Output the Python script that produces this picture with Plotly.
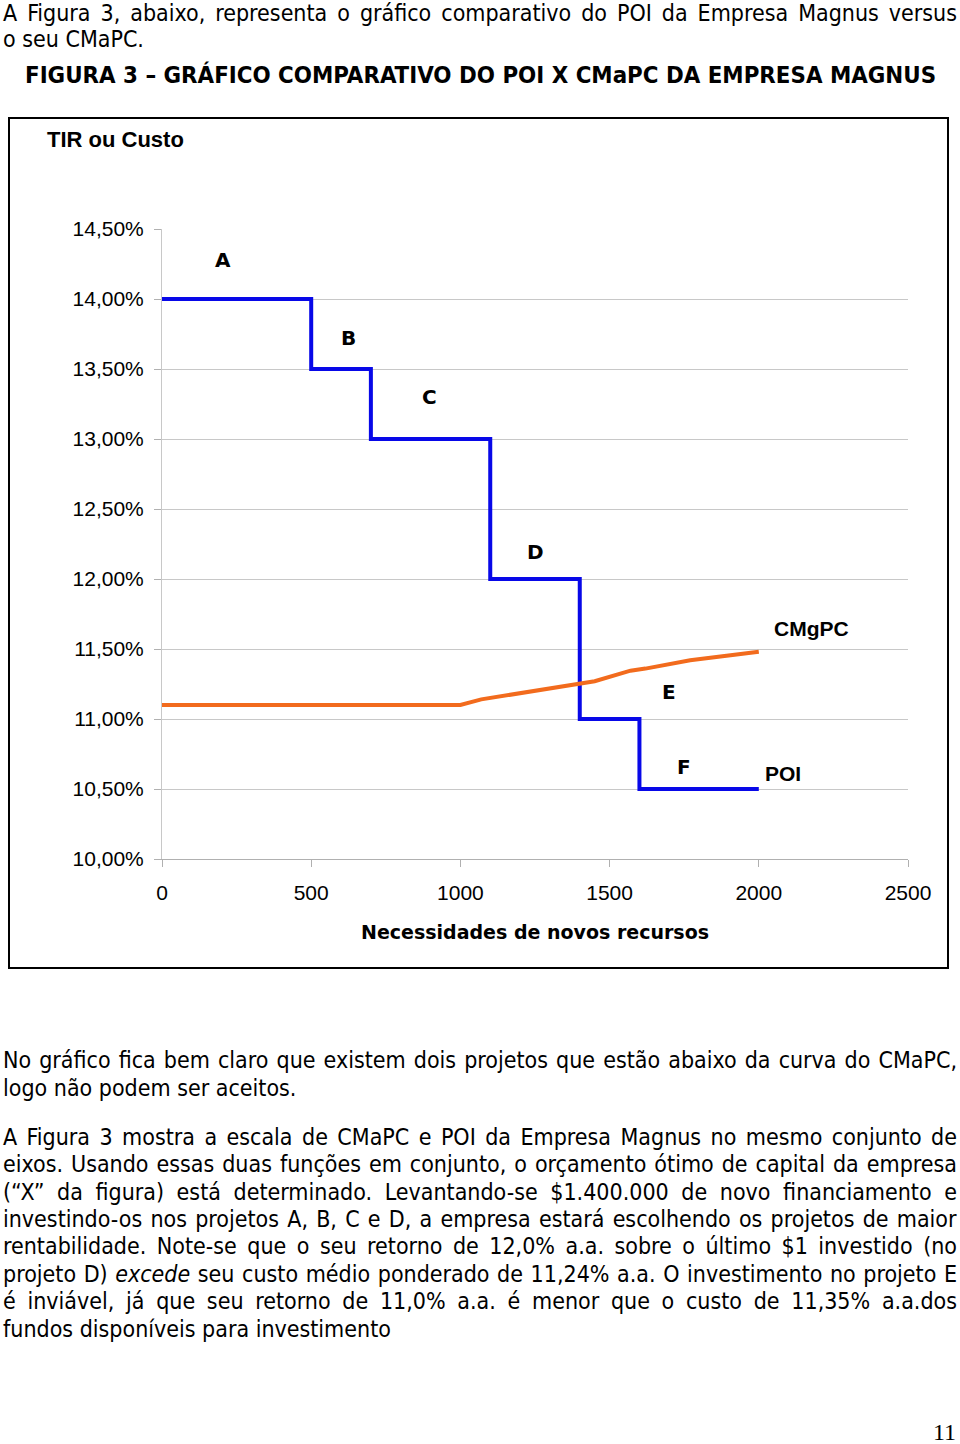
import json
import plotly.graph_objects as go

# ---------------- data ----------------
poi_x = [0, 500, 700, 1100, 1400, 1600, 2000]
poi_y = [14.0, 13.5, 13.0, 12.0, 11.0, 10.5, 10.5]

cmgpc_x = [0, 1000, 1070, 1400, 1450, 1570, 1620, 1770, 2000]
cmgpc_y = [11.10, 11.10, 11.14, 11.25, 11.27, 11.345, 11.36, 11.42, 11.48]

proj_labels = ["A", "B", "C", "D", "E", "F"]
proj_label_x = [205, 625, 895, 1250, 1700, 1750]
proj_label_y = [14.28, 13.72, 13.30, 12.19, 11.19, 10.66]

y_ticks = [10.0, 10.5, 11.0, 11.5, 12.0, 12.5, 13.0, 13.5, 14.0, 14.5]
y_ticktext = ["10,00%", "10,50%", "11,00%", "11,50%", "12,00%", "12,50%",
              "13,00%", "13,50%", "14,00%", "14,50%"]
x_ticks = [0, 500, 1000, 1500, 2000, 2500]

W, H = 960, 1444
L, R, T, B = 162, 908, 229, 859  # plot area in page pixels


def px(x):
    return (x - L) / (R - L)


def py(y):
    return 1 - (y - T) / (B - T)


fig = go.Figure()
fig.add_trace(go.Scatter(x=poi_x, y=poi_y, mode="lines", line_shape="hv",
                         line=dict(color="#0808e8", width=4), name="POI",
                         showlegend=False))
fig.add_trace(go.Scatter(x=cmgpc_x, y=cmgpc_y, mode="lines",
                         line=dict(color="#f26b1d", width=4), name="CMgPC",
                         showlegend=False))

ann = []
for t, xx, yy in zip(proj_labels, proj_label_x, proj_label_y):
    ann.append(dict(x=xx, y=yy, xref="x", yref="y", text="<b>" + t + "</b>", showarrow=False,
                    font=dict(family="DejaVu Sans", size=20, color="black"),
                    xanchor="center", yanchor="middle"))
ann.append(dict(x=2175, y=11.643, xref="x", yref="y", text="<b>CMgPC</b>", showarrow=False,
                font=dict(family="Liberation Sans, Arial", size=21, color="black")))
ann.append(dict(x=2080, y=10.61, xref="x", yref="y", text="<b>POI</b>", showarrow=False,
                font=dict(family="Liberation Sans, Arial", size=21, color="black")))

sans = "Liberation Sans Narrow, DejaVu Sans Condensed, Arial Narrow, sans-serif"
justify = []


def page_text(text, xpix, ypix, size=23, anchor="left", bold=False, family=sans, just=False):
    if bold:
        text = "<b>" + text + "</b>"
    if just:
        justify.append(len(ann))
    ann.append(dict(x=px(xpix), y=py(ypix), xref="paper", yref="paper", text=text,
                    showarrow=False, xanchor=anchor, yanchor="middle",
                    font=dict(family=family, size=size, color="black")))


page_text("A Figura 3, abaixo, representa o gráfico comparativo do POI da Empresa Magnus versus", 1, 13,
          just=True)
page_text("o seu CMaPC.", 1, 39)
page_text("FIGURA 3 – GRÁFICO COMPARATIVO DO POI X CMaPC DA EMPRESA MAGNUS", 480, 75,
          size=23.8, anchor="center", bold=True)
page_text("TIR ou Custo", 45, 139, size=22, bold=True, family="Liberation Sans, Arial")
page_text("Necessidades de novos recursos", 535, 932, size=19, anchor="center", bold=True,
          family="DejaVu Sans, Verdana")

body = [
    ("No gráfico fica bem claro que existem dois projetos que estão abaixo da curva do CMaPC,", 1060, True),
    ("logo não podem ser aceitos.", 1088, False),
    ("A Figura 3 mostra a escala de CMaPC e POI da Empresa Magnus no mesmo conjunto de", 1137, True),
    ("eixos. Usando essas duas funções em conjunto, o orçamento ótimo de capital da empresa", 1164, True),
    ("(“X” da figura) está determinado. Levantando-se $1.400.000 de novo financiamento e", 1192, True),
    ("investindo-os nos projetos A, B, C e D, a empresa estará escolhendo os projetos de maior", 1219, True),
    ("rentabilidade. Note-se que o seu retorno de 12,0% a.a. sobre o último $1 investido (no", 1246, True),
    ("projeto D) <i>excede</i> seu custo médio ponderado de 11,24% a.a. O investimento no projeto E", 1274, True),
    ("é inviável, já que seu retorno de 11,0% a.a. é menor que o custo de 11,35% a.a.dos", 1301, True),
    ("fundos disponíveis para investimento", 1329, False),
]
for t, yy, j in body:
    page_text(t, 1, yy, just=j)

page_text("11", 945, 1432, size=24, anchor="center", family="Liberation Serif, Times New Roman")

shapes = [dict(type="rect", xref="paper", yref="paper",
               x0=px(9), x1=px(948), y0=py(118), y1=py(968),
               line=dict(color="black", width=2), fillcolor="rgba(0,0,0,0)", layer="below")]

fig.update_layout(
    width=W, height=H,
    margin=dict(l=L, r=W - R, t=T, b=H - B, pad=0),
    paper_bgcolor="white", plot_bgcolor="white",
    annotations=ann, shapes=shapes,
    xaxis=dict(range=[0, 2500], tickvals=x_ticks, ticks="outside", ticklen=7,
               tickcolor="#b0b0b0", showgrid=False, showline=True, linecolor="#b0b0b0",
               linewidth=1, zeroline=False, ticklabelstandoff=8,
               tickfont=dict(family="Liberation Sans, Arial", size=21, color="black")),
    yaxis=dict(range=[10, 14.5], tickvals=y_ticks, ticktext=y_ticktext, ticks="outside",
               ticklen=7, tickcolor="#b0b0b0", showgrid=True, gridcolor="#c8c8c8",
               gridwidth=1, showline=True, linecolor="#c8c8c8", zeroline=False,
               ticklabelstandoff=6,
               tickfont=dict(family="Liberation Sans, Arial", size=21, color="black")),
)

# justify the body lines: keep the left edge, stretch word spacing to the right page edge
post = """
var gd = document.getElementById('{plot_id}');
var ids = %s;
var RIGHT = 965;
function shift(t, dx){
  t.setAttribute('x', parseFloat(t.getAttribute('x') || 0) + dx);
  t.querySelectorAll('tspan[x]').forEach(function(s){
    s.setAttribute('x', parseFloat(s.getAttribute('x')) + dx);
  });
}
ids.forEach(function(i){
  var t = gd.querySelector('g.annotation[data-index="' + i + '"] text.annotation-text');
  if (!t) return;
  var n = (t.textContent.match(/ /g) || []).length;
  if (!n) return;
  var left0 = t.getBoundingClientRect().left;
  var ws = 0;
  for (var k = 0; k < 5; k++) {
    var r = t.getBoundingClientRect();
    ws += (RIGHT - r.right) / n;
    if (ws < 0) ws = 0;
    t.style.wordSpacing = ws + 'px';
    var r1 = t.getBoundingClientRect();
    shift(t, left0 - r1.left);
  }
});
""" % json.dumps(justify)

fig.write_html("out.html", post_script=post)
